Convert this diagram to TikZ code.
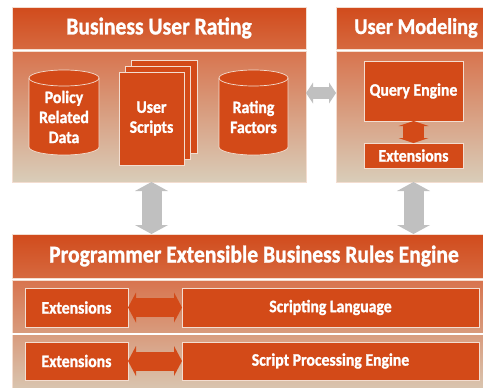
\documentclass[tikz,border=0pt]{standalone}
\usepackage{fontspec}
\setmainfont{Carlito}[FakeStretch=0.9,FakeBold=1.2]
\usetikzlibrary{arrows.meta,calc}
\definecolor{hdtop}{HTML}{D14B1C}
\definecolor{hdbot}{HTML}{D6693F}
\definecolor{bdtop}{HTML}{D8744E}
\definecolor{bdbot}{HTML}{D9CDB9}
\definecolor{boxfill}{HTML}{D34A18}
\definecolor{boxline}{HTML}{F3DDD0}
\definecolor{arrgray}{HTML}{C0C0C0}
\begin{document}
\begin{tikzpicture}[x=1pt,y=-1pt,
  panel/.style={draw=boxline,line width=0.6pt,inner sep=0pt,outer sep=0pt,anchor=north west,text=white},
  hdr/.style={panel,top color=hdtop,bottom color=hdbot,font=\fontsize{24}{28}\selectfont\bfseries},
  bdy/.style={panel,top color=bdtop,bottom color=bdbot},
  box/.style={fill=boxfill,draw=boxline,line width=0.7pt,text=white,inner sep=0pt,outer sep=0pt,
    anchor=north west,align=center,font=\fontsize{17.5}{20}\selectfont\bfseries},
  txt/.style={text=white,align=center,font=\fontsize{17.5}{20}\selectfont\bfseries},
  cyl/.style={fill=boxfill,draw=boxline,line width=0.7pt},
  garrow/.style={draw=arrgray,line width=20pt,
    {Triangle[length=9pt,width=33pt,line width=0pt]}-{Triangle[length=9pt,width=33pt,line width=0pt]}},
  garrowh/.style={draw=arrgray,line width=12pt,
    {Triangle[length=7pt,width=21pt,line width=0pt]}-{Triangle[length=7pt,width=21pt,line width=0pt]}},
  oarrow/.style={draw=boxfill,line width=19pt,
    {Triangle[length=8pt,width=30pt,line width=0pt]}-{Triangle[length=8pt,width=30pt,line width=0pt]}},
  oarrowv/.style={draw=boxfill,line width=21pt,
    {Triangle[length=5pt,width=30pt,line width=0pt]}-{Triangle[length=5pt,width=30pt,line width=0pt]}}
]
\useasboundingbox (0,0) rectangle (483,388);
\clip (0,0) rectangle (483,388);
\fill[white] (0,0) rectangle (483,388);

% Panel 1
\node[hdr,minimum width=294pt,minimum height=42pt] (p1h) at (12,7) {Business User Rating};
\node[bdy,minimum width=294pt,minimum height=131pt] (p1b) at (12,51) {};
% Panel 2
\node[hdr,minimum width=160pt,minimum height=42pt,font=\fontsize{22.5}{28}\selectfont\bfseries] (p2h) at (336,7) {User Modeling};
\node[bdy,minimum width=160pt,minimum height=131pt] (p2b) at (336,51) {};
% Panel 3
\node[hdr,minimum width=484pt,minimum height=44pt] (p3h) at (12,234) {Programmer Extensible Business Rules Engine};
\node[bdy,minimum width=484pt,minimum height=120pt] (p3b) at (12,280) {};
\coordinate (sepL) at (12,334);
\coordinate (sepR) at (496,334);
\draw[white,line width=1.5pt] (sepL) -- (sepR);

% Cylinder: Policy Related Data
\path[cyl] (29,78) -- (29,147) arc[start angle=180,end angle=0,x radius=35,y radius=8]
  -- (99,78) arc[start angle=0,end angle=-180,x radius=35,y radius=8] -- cycle;
\draw[boxline,line width=0.7pt] (29,78) arc[start angle=180,end angle=0,x radius=35,y radius=8];
\node[txt] (prd) at (64,117) {Policy\\Related\\Data};

% Cylinder: Rating Factors
\path[cyl] (219,78) -- (219,147) arc[start angle=180,end angle=0,x radius=34.5,y radius=8]
  -- (288,78) arc[start angle=0,end angle=-180,x radius=34.5,y radius=8] -- cycle;
\draw[boxline,line width=0.7pt] (219,78) arc[start angle=180,end angle=0,x radius=34.5,y radius=8];
\node[txt] (rf) at (253.5,117) {Rating\\Factors};

% User scripts pages
\node[box,minimum width=66pt,minimum height=93pt] (pg3) at (131,60) {};
\node[box,minimum width=65pt,minimum height=93pt] (pg2) at (125,66) {};
\node[box,minimum width=65pt,minimum height=93pt] (us) at (119,72) {User\\Scripts};

% User modeling boxes
\node[box,minimum width=99pt,minimum height=60pt] (qe) at (364,61) {Query Engine};
\node[box,minimum width=99pt,minimum height=25pt] (ext) at (364,143) {Extensions};

% Bottom boxes
\node[box,minimum width=103pt,minimum height=39pt] (ext1) at (25,288) {Extensions};
\node[box,minimum width=297pt,minimum height=39pt] (sl) at (182,288) {Scripting Language};
\node[box,minimum width=103pt,minimum height=38pt] (ext2) at (25,342) {Extensions};
\node[box,minimum width=297pt,minimum height=38pt] (spe) at (182,342) {Script Processing Engine};

% Arrows
\draw[garrow] (us |- p1b.south) -- (us |- p3h.north);
\draw[garrow] (qe |- p2b.south) -- (qe |- p3h.north);
\draw[garrowh] ($(p1b.east |- qe)+(0,2)$) -- ($(p2b.west |- qe)+(0,2)$);
\draw[oarrowv] (qe.south) -- (ext.north);
\draw[oarrow] (ext1.east) -- (sl.west);
\draw[oarrow] (ext2.east) -- (spe.west);
\end{tikzpicture}
\end{document}
